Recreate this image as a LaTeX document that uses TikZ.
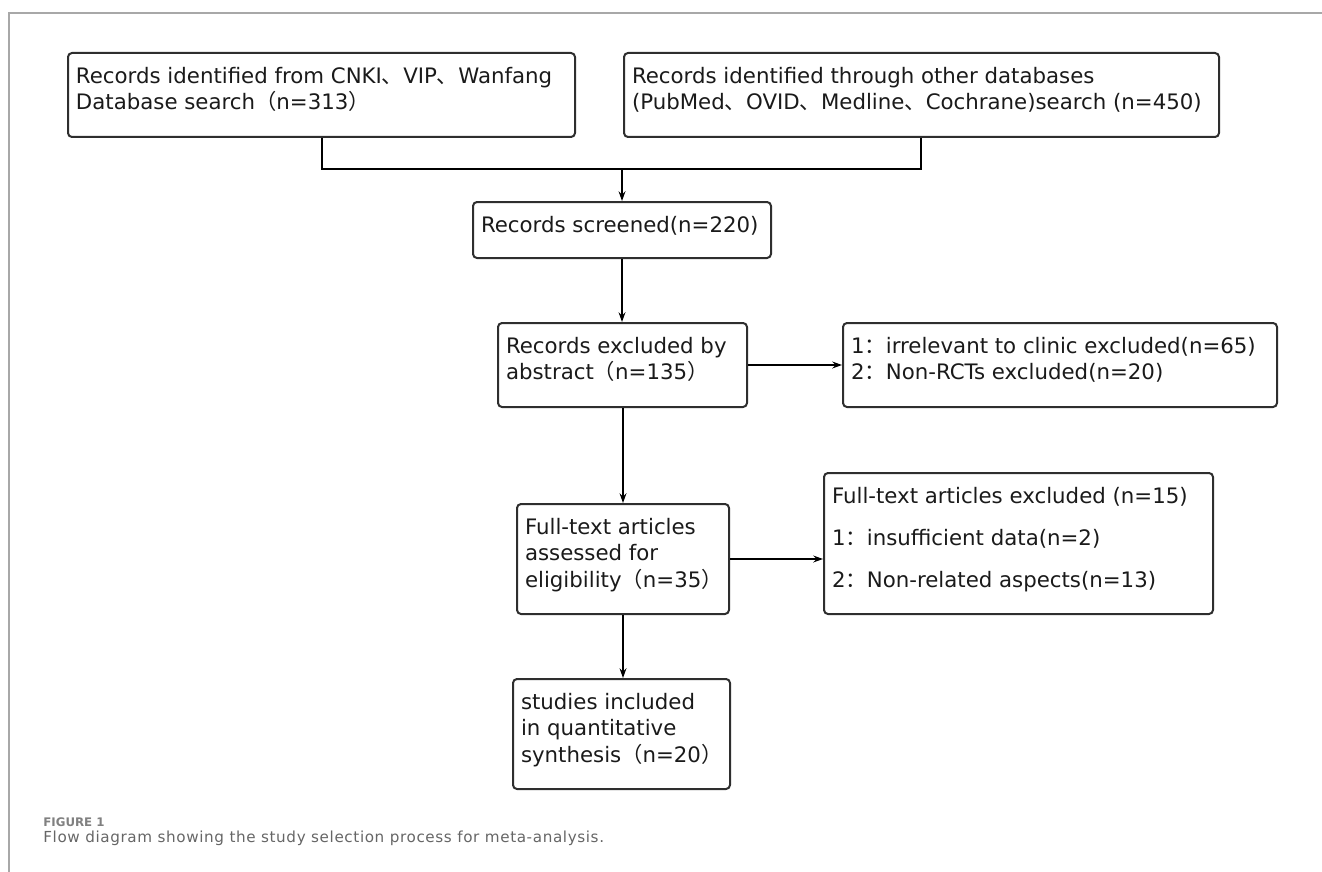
\documentclass[tikz,border=0pt]{standalone}
\usepackage{fontspec}
\setmainfont{DejaVu Sans}
\newfontfamily\cjk{Noto Sans CJK SC}
\newfontfamily\capfont[LetterSpace=4]{DejaVu Sans}
\newfontfamily\figfont{DejaVu Sans}
\usetikzlibrary{arrows.meta}
\definecolor{framegray}{HTML}{A8A8A8}
\definecolor{boxline}{HTML}{2E2E2E}
\definecolor{boxtext}{HTML}{1A1A1A}
\definecolor{captxt}{HTML}{666666}
\definecolor{figlbl}{HTML}{808080}
\newcommand\fwdun{{\cjk 、}}
\newcommand\fwlp{{\cjk （}}
\newcommand\fwrp{{\cjk ）}}
\newcommand\fwcol{{\cjk ：}}
\newcommand\bt[3]{\parbox[c][#2][t]{#1}{\raggedright\leftskip=4pt\fontsize{10.65pt}{13.3pt}\selectfont\rule{0pt}{15pt}#3}}
\tikzset{
  flowbox/.style={draw=boxline, line width=1pt, rounded corners=2pt, inner sep=0pt, anchor=north west, text=boxtext},
  conn/.style={draw=black, line width=0.9pt},
  arr/.style={conn, -{Stealth[length=4.8pt,width=3.4pt]}},
}
\begin{document}
\begin{tikzpicture}[x=0.5pt,y=-0.5pt]
\useasboundingbox (0,0) rectangle (1322,872);
% frame
\draw[framegray, line width=0.75pt] (9,872) -- (9,13) -- (1322,13);
% boxes
\node[flowbox] (A) at (67,52) {\bt{253.5pt}{42pt}{Records identified from CNKI\fwdun VIP\fwdun Wanfang\\Database search\fwlp n=313\fwrp}};
\node[flowbox] (B) at (623,52) {\bt{297.5pt}{42pt}{Records identified through other databases\\(PubMed\fwdun OVID\fwdun Medline\fwdun Cochrane)search (n=450)}};
\node[flowbox] (C) at (472,201) {\bt{149pt}{28pt}{Records screened(n=220)}};
\node[flowbox] (D) at (497,322) {\bt{124.5pt}{42pt}{Records excluded by\\abstract\fwlp n=135\fwrp}};
\node[flowbox] (E) at (842,322) {\bt{217pt}{42pt}{1\fwcol irrelevant to clinic excluded(n=65)\\2\fwcol Non-RCTs excluded(n=20)}};
\node[flowbox] (F) at (516,503) {\bt{106pt}{55pt}{Full-text articles\\assessed for\\eligibility\fwlp n=35\fwrp}};
\node[flowbox] (G) at (823,472) {\bt{194.5pt}{70.5pt}{Full-text articles excluded (n=15)\\[7.7pt]1\fwcol insufficient data(n=2)\\[7.7pt]2\fwcol Non-related aspects(n=13)}};
\node[flowbox] (H) at (512,678) {\bt{108.5pt}{55pt}{studies included\\in quantitative\\synthesis\fwlp n=20\fwrp}};
% connectors
\coordinate (jA) at (322,169);
\coordinate (jB) at (921,169);
\draw[conn] (A.south -| jA) -- (jA) -- (jB) -- (B.south -| jB);
\draw[arr] (C.north |- jA) -- (C.north);
\draw[arr] (C.south) -- (D.north -| C.south);
\draw[arr] (D.east) -- (E.west |- D.east);
\draw[arr] (D.south -| F.north) -- (F.north);
\draw[arr] (F.east) -- (G.west |- F.east);
\draw[arr] (F.south) -- (H.north -| F.south);
% caption
\node[anchor=base west, inner sep=0pt, font=\figfont\fontsize{5.9pt}{7pt}\selectfont\bfseries, text=figlbl] (fig) at (43,826) {FIGURE 1};
\node[anchor=base west, inner sep=0pt, font=\capfont\fontsize{7.6pt}{9pt}\selectfont, text=captxt] (cap) at (43,842) {Flow diagram showing the study selection process for meta-analysis.};
\end{tikzpicture}
\end{document}
